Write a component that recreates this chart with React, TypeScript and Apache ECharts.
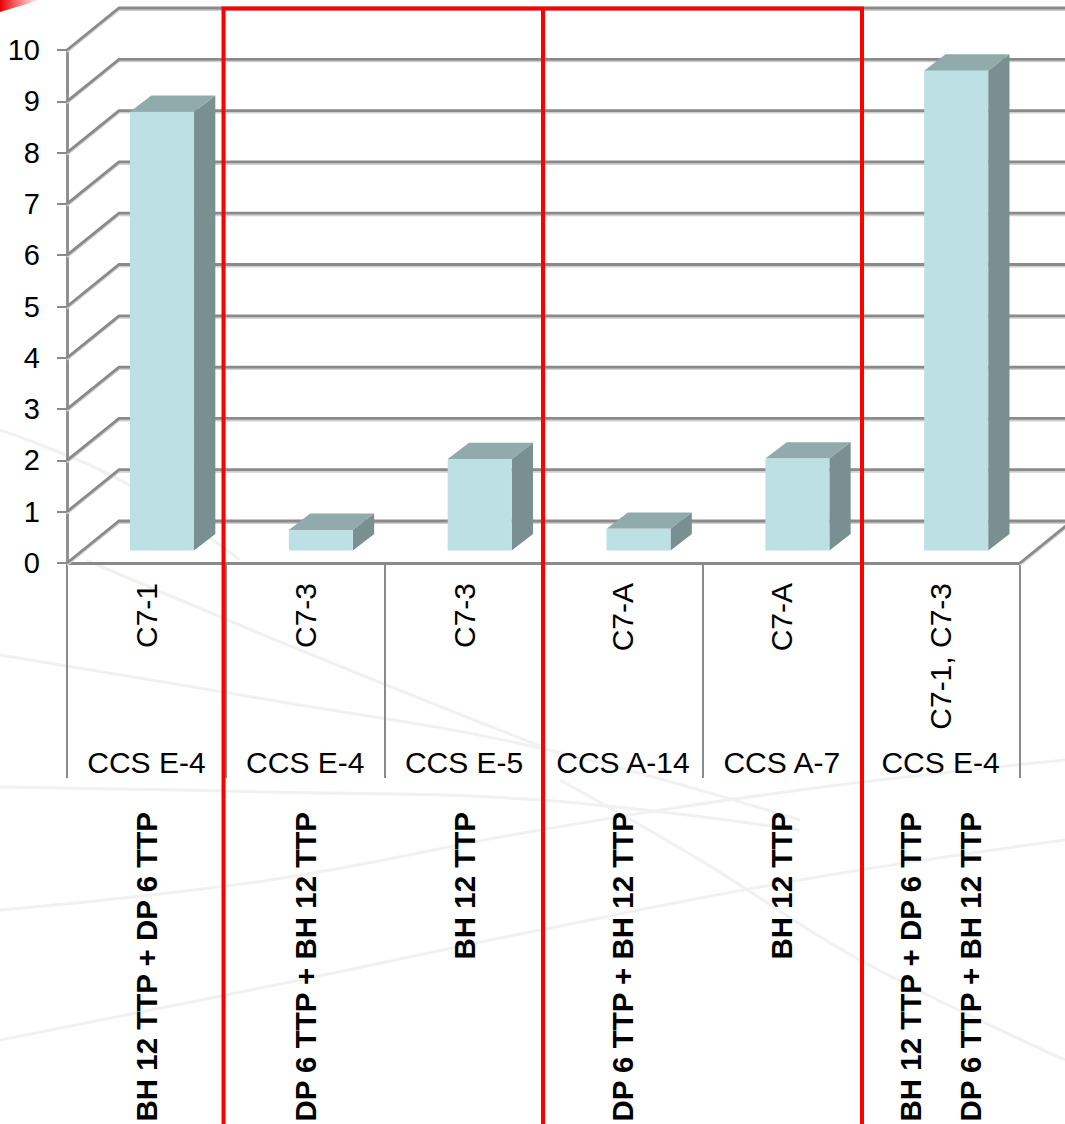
import React, { useEffect, useRef } from 'react';
import * as echarts from 'echarts';

const LEVEL1_LABELS = ['C7-1', 'C7-3', 'C7-3', 'C7-A', 'C7-A', 'C7-1, C7-3'];
const LEVEL2_LABELS = ['CCS E-4', 'CCS E-4', 'CCS E-5', 'CCS A-14', 'CCS A-7', 'CCS E-4'];
const LEVEL3_LABELS = [
  'BH 12 TTP + DP 6 TTP',
  'DP 6 TTP + BH 12 TTP',
  'BH 12 TTP',
  'DP 6 TTP + BH 12 TTP',
  'BH 12 TTP',
  'BH 12 TTP + DP 6 TTP\nDP 6 TTP + BH 12 TTP',
];
const VALUES = [8.55, 0.4, 1.78, 0.42, 1.79, 9.35];
const Y_TICKS = [0, 1, 2, 3, 4, 5, 6, 7, 8, 9, 10];

const FONT = '"Liberation Sans", Arial, Helvetica, sans-serif';
const DX = 52;
const DY = -42;
const GRID_COLOR = '#8a8a8a';
const GRID_SHADOW = '#d0d0d0';

export default function App() {
  const ref = useRef<HTMLDivElement>(null);

  useEffect(() => {
    const chart = echarts.init(ref.current as HTMLDivElement, null, { renderer: 'svg' });

    const frameRender = (params: any, api: any) => {
      const v = api.value(1);
      const cs = params.coordSys;
      const y = api.coord([0, v])[1];
      const x0 = cs.x;
      const xr = 1075;
      const children: any[] = [
        {
          type: 'polyline',
          shape: { points: [[x0, y + 2], [x0 + DX, y + DY + 2], [xr, y + DY + 2]] },
          style: { stroke: GRID_SHADOW, lineWidth: 2, fill: null },
        },
        {
          type: 'polyline',
          shape: { points: [[x0, y], [x0 + DX, y + DY], [xr, y + DY]] },
          style: { stroke: GRID_COLOR, lineWidth: 2.8, fill: null },
        },
      ];
      if (v === 0) {
        const xe = cs.x + cs.width;
        children.push({
          type: 'line',
          shape: { x1: xe, y1: y + 2, x2: xe + DX, y2: y + DY + 2 },
          style: { stroke: GRID_SHADOW, lineWidth: 2 },
        });
        children.push({
          type: 'line',
          shape: { x1: xe, y1: y, x2: xe + DX, y2: y + DY },
          style: { stroke: GRID_COLOR, lineWidth: 2.8 },
        });
      }
      return { type: 'group', children };
    };

    const barRender = (params: any, api: any) => {
      const i = api.value(0);
      const v = api.value(1);
      const base = api.coord([i, 0]);
      const top = api.coord([i, v]);
      const bw = api.size([1, 0])[0] * 0.403;
      const fx = 0.3 * DX;
      const fy = 0.3 * DY;
      const bdx = 0.41 * DX;
      const bdy = 0.39 * DY;
      const x0 = base[0] + fx - bw / 2;
      const x1 = x0 + bw;
      const yb = base[1] + fy;
      const yt = top[1] + fy;
      return {
        type: 'group',
        children: [
          {
            type: 'polygon',
            shape: { points: [[x1, yt], [x1 + bdx, yt + bdy], [x1 + bdx, yb + bdy], [x1, yb]] },
            style: { fill: '#798f90' },
          },
          {
            type: 'polygon',
            shape: { points: [[x0, yt], [x1, yt], [x1 + bdx, yt + bdy], [x0 + bdx, yt + bdy]] },
            style: { fill: '#91aaac' },
          },
          {
            type: 'rect',
            shape: { x: x0, y: yt, width: bw, height: yb - yt },
            style: { fill: '#bce0e3' },
          },
        ],
      };
    };

    const faint = (points: number[][]) => ({
      type: 'polyline',
      silent: true,
      z: -10,
      shape: { points, smooth: 0.4 },
      style: { stroke: '#f1f1f1', lineWidth: 3, fill: null },
    });

    const option: any = {
      animation: false,
      backgroundColor: '#ffffff',
      grid: {
        left: 67,
        right: 45,
        top: 50,
        bottom: 561,
        containLabel: false,
        outerBoundsMode: 'none',
      },
      xAxis: [
        {
          type: 'category',
          position: 'bottom',
          data: LEVEL1_LABELS,
          boundaryGap: true,
          axisLine: { show: true, lineStyle: { color: GRID_COLOR, width: 2.8 } },
          axisTick: { show: true, length: 215, alignWithLabel: false, lineStyle: { color: GRID_COLOR, width: 2 } },
          axisLabel: { interval: 0, rotate: 90, margin: 20, fontSize: 30, color: '#000', fontFamily: FONT },
        },
        {
          type: 'category',
          position: 'bottom',
          data: LEVEL2_LABELS,
          axisLine: { show: false },
          axisTick: { show: false },
          axisLabel: { interval: 0, margin: 184, fontSize: 30, color: '#000', fontFamily: FONT },
        },
        {
          type: 'category',
          position: 'bottom',
          data: LEVEL3_LABELS,
          axisLine: { show: false },
          axisTick: { show: false },
          axisLabel: {
            interval: 0,
            rotate: 90,
            margin: 249,
            fontSize: 29.5,
            fontWeight: 'bold',
            lineHeight: 60,
            color: '#000',
            fontFamily: FONT,
          },
        },
      ],
      yAxis: {
        type: 'value',
        min: 0,
        max: 10,
        interval: 1,
        axisLine: { show: true, lineStyle: { color: GRID_COLOR, width: 2.8 } },
        axisTick: { show: true, length: 10, lineStyle: { color: GRID_COLOR, width: 2 } },
        axisLabel: { margin: 27, fontSize: 29, color: '#000', fontFamily: FONT },
        splitLine: { show: false },
      },
      series: [
        {
          type: 'custom',
          name: 'frame',
          xAxisIndex: 0,
          yAxisIndex: 0,
          renderItem: frameRender,
          data: Y_TICKS.map((v) => [0, v]),
          encode: { x: 0, y: 1 },
          silent: true,
          z: 1,
        },
        {
          type: 'custom',
          name: 'bars',
          xAxisIndex: 0,
          yAxisIndex: 0,
          renderItem: barRender,
          data: VALUES.map((v, i) => [i, v]),
          encode: { x: 0, y: 1 },
          z: 2,
        },
      ],
      graphic: [
        faint([[0, 655], [270, 700], [540, 748], [800, 820]]),
        faint([[0, 787], [270, 792], [540, 800], [800, 830]]),
        faint([[86, 560], [300, 650], [540, 746]]),
        faint([[0, 430], [120, 480], [240, 560]]),
        faint([[0, 910], [270, 880], [540, 830], [800, 790], [1065, 760]]),
        faint([[0, 1040], [300, 980], [540, 930], [800, 880], [1065, 840]]),
        faint([[560, 780], [700, 860], [860, 960], [1065, 1060]]),
        {
          type: 'polygon',
          silent: true,
          z: 50,
          shape: { points: [[0, 0], [40, 0], [0, 12]] },
          style: {
            fill: new echarts.graphic.LinearGradient(0, 0, 1, 0, [
              { offset: 0, color: 'rgba(230,0,0,1)' },
              { offset: 1, color: 'rgba(255,0,0,0)' },
            ]),
          },
        },
        {
          type: 'polyline',
          silent: true,
          z: 100,
          shape: { points: [[223.5, 1130], [223.5, 8.5], [862, 8.5], [862, 1130]] },
          style: { stroke: '#ff0000', lineWidth: 4, fill: null },
        },
        {
          type: 'line',
          silent: true,
          z: 100,
          shape: { x1: 543, y1: 8.5, x2: 543, y2: 1130 },
          style: { stroke: '#ff0000', lineWidth: 4 },
        },
      ],
    };

    chart.setOption(option);
    return () => chart.dispose();
  }, []);

  return (
    <div
      ref={ref}
      style={{
        position: 'absolute',
        left: 0,
        top: 0,
        width: 1065,
        height: 1124,
        background: '#fff',
        overflow: 'hidden',
      }}
    />
  );
}
